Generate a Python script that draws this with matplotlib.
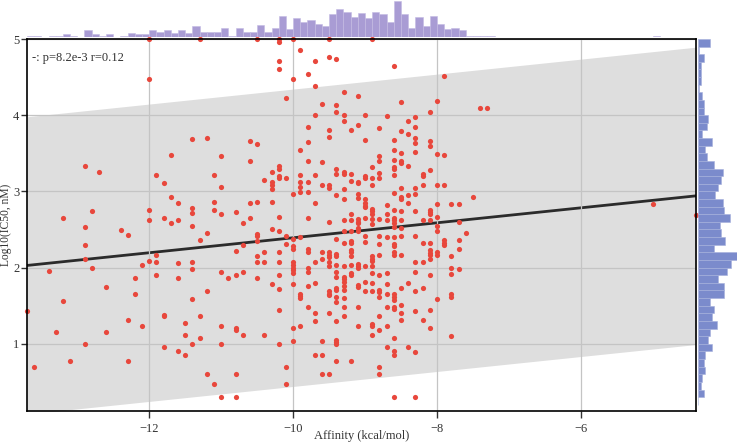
import numpy as np
import matplotlib
matplotlib.use("Agg")
import matplotlib.pyplot as plt

plt.rcParams['font.family'] = ['Liberation Serif', 'DejaVu Serif']

# values, one line per affinity column (kcal/mol -> log10 IC50)
cols = [
    (-13.7, [1.43]),
    (-13.6, [0.70]),
    (-13.4, [1.96]),
    (-13.3, [1.15]),
    (-13.2, [2.65, 1.56]),
    (-13.1, [0.78]),
    (-12.9, [3.34, 2.53, 2.30, 2.12, 1.00]),
    (-12.8, [2.75, 1.99]),
    (-12.7, [3.25]),
    (-12.6, [1.75, 1.15]),
    (-12.4, [2.49]),
    (-12.3, [2.43, 1.32, 0.78]),
    (-12.2, [1.86, 1.65]),
    (-12.1, [2.03, 1.23]),
    (-12.0, [5.0, 4.48, 2.76, 2.62, 2.09]),
    (-11.9, [3.21, 2.16, 2.08, 1.90]),
    (-11.8, [3.11, 2.65, 1.38, 1.36, 0.96]),
    (-11.7, [3.48, 2.93, 2.59]),
    (-11.6, [2.85, 2.63, 2.06, 1.86, 0.91]),
    (-11.5, [1.28, 1.12, 0.85]),
    (-11.4, [3.69, 2.78, 2.72, 2.55, 2.08, 1.98, 1.59, 1.00]),
    (-11.3, [5.0, 2.36, 1.36, 1.08]),
    (-11.2, [3.70, 2.45, 1.69, 0.61]),
    (-11.1, [3.21, 2.86, 2.76, 0.48]),
    (-11.0, [3.46, 3.06, 2.70, 1.95, 1.23, 1.00, 0.31]),
    (-10.9, [1.86]),
    (-10.8, [2.73, 2.22, 1.90, 1.21, 1.18, 0.61, 0.31]),
    (-10.7, [2.59, 2.30, 1.95, 1.12]),
    (-10.6, [3.66, 3.40, 2.85, 2.65]),
    (-10.5, [5.0, 3.62, 2.86, 2.44, 2.41, 2.35, 2.15, 2.08, 1.87]),
    (-10.4, [3.15, 2.20, 2.08, 1.12]),
    (-10.3, [3.26, 3.12, 3.08, 3.03, 2.86, 2.51, 1.79]),
    (-10.2, [5.0, 4.96, 4.71, 4.61, 3.34, 3.30, 3.20, 3.17, 2.67,
             2.48, 2.20, 2.08, 1.90, 1.72, 1.45, 1.00]),
    (-10.1, [4.23, 3.18, 2.42, 2.31, 0.70, 0.48]),
    (-10.0, [5.0, 4.48, 2.97, 2.38, 2.28, 2.24, 2.08, 2.03, 2.00, 1.97,
             1.93, 1.79, 1.21, 1.04]),
    (-9.9, [4.85, 3.54, 3.21, 3.12, 3.06, 2.99, 2.40, 1.66, 1.63, 1.60, 1.23]),
    (-9.8, [4.54, 3.84, 3.65, 3.40, 3.12, 2.99, 2.65, 2.25, 2.20, 1.99,
            1.94, 1.76, 1.48]),
    (-9.7, [4.71, 4.38, 4.00, 3.21, 2.85, 2.08, 1.80, 1.40, 1.30, 0.85]),
    (-9.6, [4.15, 3.38, 3.08, 2.20, 2.12, 1.04, 0.85, 0.60]),
    (-9.5, [5.0, 4.77, 3.81, 3.72, 3.08, 3.04, 2.60, 2.20, 2.17, 2.14,
            2.08, 2.02, 1.69, 1.66, 1.64, 1.40, 0.60]),
    (-9.4, [4.74, 4.14, 4.04, 3.30, 3.23, 2.95, 2.38, 2.18, 2.15, 2.04,
            1.95, 1.88, 1.74, 1.71, 1.61, 1.55, 1.30, 1.05, 1.03, 1.00, 0.78]),
    (-9.3, [4.30, 4.00, 3.93, 3.25, 3.23, 3.03, 2.90, 2.63, 2.48, 2.32,
            2.02, 1.88, 1.85, 1.81, 1.76, 1.71, 1.60, 1.48, 1.36]),
    (-9.2, [3.81, 3.23, 3.14, 2.71, 2.62, 2.48, 2.35, 2.32, 2.23, 2.20,
            2.15, 2.04, 1.93, 1.90, 0.78]),
    (-9.1, [4.25, 3.87, 3.13, 3.11, 2.97, 2.91, 2.64, 2.60, 2.58, 2.52,
            2.48, 2.05, 2.02, 1.99, 1.77, 1.75, 1.48, 1.23]),
    (-9.0, [4.00, 3.67, 3.20, 3.17, 2.90, 2.85, 2.81, 2.79, 2.65, 2.41,
            2.34, 2.02, 1.81, 1.69]),
    (-8.9, [5.0, 3.32, 3.18, 3.08, 2.77, 2.74, 2.71, 2.64, 2.57, 2.15,
            2.11, 2.09, 2.02, 1.93, 1.80, 1.69, 1.26, 1.23, 1.12]),
    (-8.8, [3.83, 3.47, 3.40, 3.24, 3.17, 2.64, 2.41, 2.31, 2.17, 1.90,
            1.71, 1.68, 1.61, 1.36, 1.18, 0.70, 0.60]),
    (-8.7, [3.99, 2.82, 2.71, 2.62, 2.40, 1.93, 1.78, 1.65, 1.49, 1.23, 0.96]),
    (-8.6, [4.65, 3.68, 3.55, 3.41, 3.32, 3.29, 3.21, 2.98, 2.76, 2.65,
            2.62, 2.58, 2.54, 2.40, 2.31, 2.29, 2.20, 2.17, 1.65, 1.62,
            1.58, 1.48, 1.46, 1.08, 0.91, 0.85, 0.31]),
    (-8.5, [4.17, 3.79, 3.51, 3.40, 3.37, 3.04, 2.93, 2.90, 2.74, 2.62,
            2.52, 2.41, 2.17, 1.74, 1.51, 1.41, 1.32]),
    (-8.4, [3.93, 3.76, 3.33, 2.96, 2.85, 1.80, 0.96]),
    (-8.3, [3.98, 3.84, 3.70, 3.64, 3.52, 3.04, 2.97, 2.74, 2.41, 2.08,
            1.95, 1.70, 1.43, 0.90, 0.31]),
    (-8.2, [3.23, 3.20, 3.08, 2.62, 2.32, 2.08, 1.74, 1.32]),
    (-8.1, [4.04, 3.66, 3.59, 3.28, 2.76, 2.73, 2.71, 2.62, 2.32, 2.23,
            2.19, 2.16, 2.11, 1.91, 1.45, 1.21]),
    (-8.0, [4.19, 3.49, 3.08, 2.83, 2.67, 2.55, 2.48, 2.20, 2.17, 1.59]),
    (-7.9, [4.52, 3.48, 3.08, 2.36, 2.33, 2.30]),
    (-7.8, [2.83, 2.15, 2.00, 1.92, 1.65, 1.62, 1.10]),
    (-7.7, [2.83, 2.60, 2.36, 2.25, 1.98]),
    (-7.6, [2.46]),
    (-7.5, [2.93]),
    (-7.4, [4.10]),
    (-7.3, [4.10]),
    (-5.0, [2.83]),
    (-4.4, [2.69]),
]
affinity = np.array([a for a, ys in cols for _ in ys])
log_ic50 = np.array([y for a, ys in cols for y in ys])

x_ticks = [-12, -10, -8, -6]
y_ticks = [1, 2, 3, 4, 5]
stat_text = "-: p=8.2e-3 r=0.12"

W, H = 737, 444
fig = plt.figure(figsize=(W / 100, H / 100), dpi=100)
ax = fig.add_axes([27 / W, 33 / H, 669 / W, 372 / H])
ax_top = fig.add_axes([27 / W, 407 / H, 669 / W, 36 / H], sharex=ax)
ax_right = fig.add_axes([698 / W, 33 / H, 39 / W, 372 / H], sharey=ax)

# fit and band
slope, intercept = np.polyfit(affinity, log_ic50, 1)
resid = log_ic50 - (slope * affinity + intercept)
half = 2.0 * resid.std()
xs = np.array([affinity.min(), affinity.max()])
fit = slope * xs + intercept
ax.fill_between(xs, fit - half, fit + half, color='#dedede', zorder=0.5, lw=0)
ax.plot(xs, fit, color='#2b2b2b', lw=2, zorder=2)

ax.scatter(affinity, log_ic50, s=14, color='#e8473c', zorder=3, clip_on=False, lw=0)

ax.set_xlim(affinity.min(), affinity.max())
ax.set_ylim(0.12, 5)
ax.set_xticks(x_ticks)
ax.set_yticks(y_ticks)
ax.grid(True, color='#c4c4c4', lw=0.9, zorder=1)
ax.set_axisbelow(False)
for sp in ax.spines.values():
    sp.set_color('black')
    sp.set_linewidth(1.2)
    sp.set_zorder(4)
ax.tick_params(direction='out', length=5, width=1, labelsize=9, colors='#333333')
ax.tick_params(axis='y', length=4, pad=1.5)
ax.set_xlabel("Affinity (kcal/mol)", fontsize=9, color='#333333')
ax.set_ylabel("Log10(IC50, nM)", fontsize=8.3, color='#333333')
ax.xaxis.set_label_coords(0.5, -0.052)
ax.yaxis.set_label_coords(-0.0225, 0.5)
ax.text(0.008, 0.965, stat_text, transform=ax.transAxes, fontsize=9,
        color='#333333', va='top', ha='left')

# marginal histograms
bx = np.arange(-13.801, -4.2, 0.1)
ax_top.hist(affinity, bins=bx, color='#a99cd4', edgecolor='#c4bbe3', lw=0.4)
ax_top.margins(y=0)
ax_top.axis('off')

by = np.arange(0.201, 5.2, 0.1)
ax_right.hist(log_ic50, bins=by, orientation='horizontal', color='#7b8bcc',
              edgecolor='#a5b0dc', lw=0.4)
ax_right.margins(x=0)
ax_right.axis('off')

fig.savefig("out.png", dpi=100)
